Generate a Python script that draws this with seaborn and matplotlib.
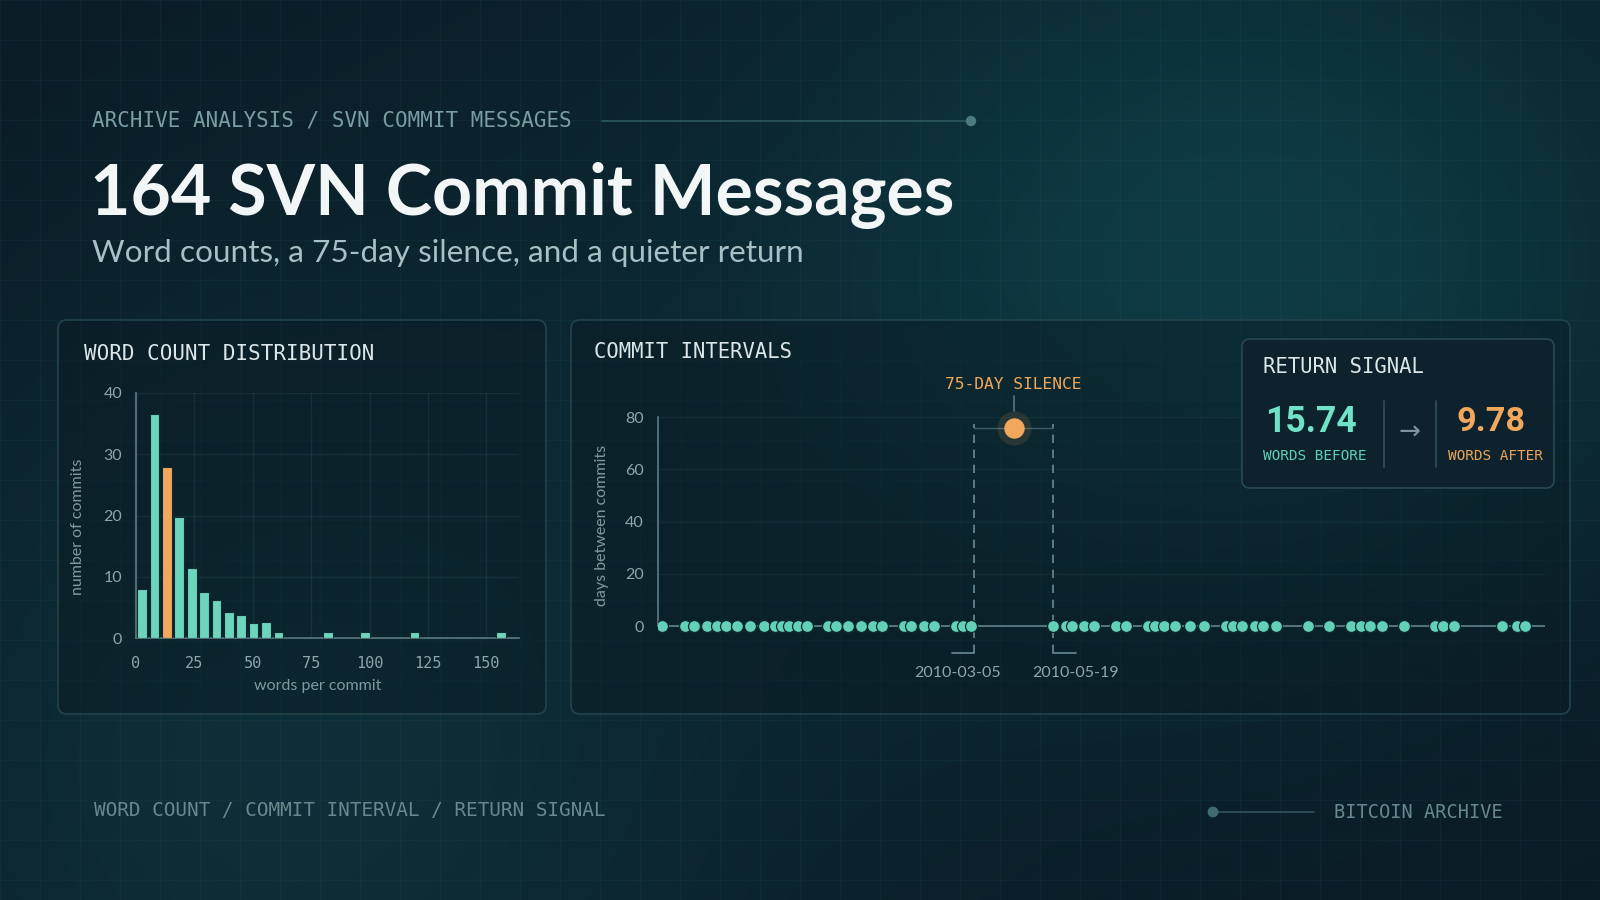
import numpy as np
import pandas as pd
import matplotlib
matplotlib.use("Agg")
import matplotlib.pyplot as plt
from matplotlib.patches import FancyBboxPatch, Circle
import seaborn as sns

# ---------------- data ----------------
total_commits = 164
word_bin_width = 5.3                                 # 30 bins over 0-159 words
word_bin_range = (0, 159)
commit_counts = [8, 36.5, 28, 19.7, 11.5, 7.5, 6.2, 4.3, 3.7, 2.4,
                 2.6, 1, 0, 0, 0, 1, 0, 0, 1, 0,
                 0, 0, 1, 0, 0, 0, 0, 0, 0, 1]
highlight_bin = 2
word_ticks = [0, 25, 50, 75, 100, 125, 150]
count_ticks = [0, 10, 20, 30, 40]

commit_dates_before = [
    "2009-05-10", "2009-06-01", "2009-06-09", "2009-06-22", "2009-07-01",
    "2009-07-10", "2009-07-20", "2009-08-02", "2009-08-15", "2009-08-26",
    "2009-09-02", "2009-09-08", "2009-09-17", "2009-09-26", "2009-10-16",
    "2009-10-23", "2009-11-04", "2009-11-16", "2009-11-28", "2009-12-06",
    "2009-12-28", "2010-01-03", "2010-01-16", "2010-01-25", "2010-02-15",
    "2010-02-22", "2010-03-02"]
intervals_before = [0, 0, 0, 0, 0, 0, 0, 0, 0, 0,
                    0, 0, 0, 0, 0, 0, 0, 0, 0, 0,
                    0, 0, 0, 0, 0, 0, 0]
commit_dates_after = [
    "2010-05-19", "2010-06-01", "2010-06-07", "2010-06-18", "2010-06-28",
    "2010-07-19", "2010-07-28", "2010-08-18", "2010-08-25", "2010-09-03",
    "2010-09-13", "2010-09-28", "2010-10-11", "2010-11-01", "2010-11-08",
    "2010-11-17", "2010-11-29", "2010-12-07", "2010-12-19", "2011-01-19",
    "2011-02-08", "2011-03-01", "2011-03-11", "2011-03-19", "2011-03-31",
    "2011-04-21", "2011-05-21", "2011-05-28", "2011-06-08", "2011-07-24",
    "2011-08-07", "2011-08-15"]
intervals_after = [0, 0, 0, 0, 0, 0, 0, 0, 0, 0,
                   0, 0, 0, 0, 0, 0, 0, 0, 0, 0,
                   0, 0, 0, 0, 0, 0, 0, 0, 0, 0,
                   0, 0]
silence_start = "2010-03-05"
silence_end = "2010-05-19"
silence_days = 75
interval_ticks = [0, 20, 40, 60, 80]

words_before = 15.74
words_after = 9.78

# ---------------- style ----------------
W, H = 1600, 900
BG = "#0b1b25"
TEAL = "#6dd5bc"
TEAL_DOT = "#62d1b8"
ORANGE = "#f2a85c"
TXT_HI = "#dae6e7"
TXT_MID = "#8ca6aa"
TXT_DIM = "#67898d"
AXC = "#5b7c83"
MONO = ["DejaVu Sans Mono"]
SANS = ["Lato", "DejaVu Sans"]
MONO_SCALE = 0.98

sns.set_theme(style="white", rc={
    "axes.facecolor": "none", "figure.facecolor": BG,
    "axes.edgecolor": AXC, "text.color": TXT_HI,
    "xtick.color": TXT_MID, "ytick.color": TXT_MID,
    "axes.labelcolor": "#7f9a9e"})
plt.rcParams["font.family"] = SANS

fig = plt.figure(figsize=(16, 9), dpi=100)
renderer = fig.canvas.get_renderer()


def px_rect(x0, y0, x1, y1):
    return [x0 / W, 1 - y1 / H, (x1 - x0) / W, (y1 - y0) / H]


# background
bg = fig.add_axes([0, 0, 1, 1], zorder=-10)
bg.set_xlim(0, W)
bg.set_ylim(H, 0)
bg.axis("off")
yy, xx = np.mgrid[0:H:2, 0:W:2]
g1 = np.exp(-((xx - 1268) ** 2 / (2 * 330 ** 2) + (yy - 250) ** 2 / (2 * 260 ** 2)))
g2 = np.exp(-((xx - 260) ** 2 + (yy - 790) ** 2) / (2 * 330 ** 2))
g3 = np.exp(-((xx - 700) ** 2 + (yy - 420) ** 2) / (2 * 600 ** 2))
img = (np.array([10, 25, 34])[None, None, :]
       + g1[..., None] * np.array([3, 30, 30])[None, None, :]
       + g2[..., None] * np.array([3, 17, 17])[None, None, :]
       + g3[..., None] * np.array([1, 7, 8])[None, None, :]) / 255.0
bg.imshow(np.clip(img, 0, 1), extent=[0, W, H, 0], aspect="auto", zorder=0,
          interpolation="bilinear")
for gx in range(0, W + 1, 40):
    bg.plot([gx, gx], [0, H], color="#4fa0a8", alpha=0.06, lw=1, zorder=1)
for gy in range(0, H + 1, 40):
    bg.plot([0, W], [gy, gy], color="#4fa0a8", alpha=0.06, lw=1, zorder=1)


def rbox(ax, x0, y0, x1, y1, fc, ec, r=9, lw=1.2, z=2):
    ax.add_patch(FancyBboxPatch((x0, y0), x1 - x0, y1 - y0,
                                boxstyle=f"round,pad=0,rounding_size={r}",
                                fc=fc, ec=ec, lw=lw, zorder=z))


rbox(bg, 58, 320, 546, 714, (0.04, 0.10, 0.13, 0.45), "#21434b")
rbox(bg, 571, 320, 1570, 714, (0.04, 0.10, 0.13, 0.45), "#21434b")

ov = fig.add_axes([0, 0, 1, 1], zorder=10)
ov.set_xlim(0, W)
ov.set_ylim(H, 0)
ov.axis("off")
ov.patch.set_alpha(0)


def fit(ax, x, y, s, width, family, color, weight="normal", va="center",
        ha="left", z=5, **kw):
    t = ax.text(x, y, s, fontsize=20, family=family, color=color,
                weight=weight, va=va, ha=ha, zorder=z, **kw)
    bb = t.get_window_extent(renderer=renderer)
    scale = MONO_SCALE if family == MONO else 1.0
    t.set_fontsize(20 * scale * width / bb.width)
    return t


# header / title
fit(ov, 92, 121, "ARCHIVE ANALYSIS / SVN COMMIT MESSAGES", 487, MONO, "#7a9da1")
ov.plot([602, 967], [121, 121], color="#2b5459", lw=1.3, zorder=4)
ov.add_patch(Circle((971, 121), 4.5, color="#4b7b7e", zorder=5))
fit(ov, 90, 215, f"{total_commits} SVN Commit Messages", 864, SANS, "#f3f6f6",
    weight="bold", va="baseline")
fit(ov, 92, 262, "Word counts, a 75-day silence, and a quieter return", 712,
    SANS, "#a6c0c3", va="baseline")

# panel titles
fit(ov, 84, 354, "WORD COUNT DISTRIBUTION", 295, MONO, TXT_HI)
fit(ov, 594, 352, "COMMIT INTERVALS", 202, MONO, TXT_HI)

# footer
fit(ov, 94, 811, "WORD COUNT / COMMIT INTERVAL / RETURN SIGNAL", 525, MONO,
    TXT_DIM)
fit(ov, 1334, 812, "BITCOIN ARCHIVE", 172, MONO, TXT_DIM)
ov.plot([1213, 1314], [812, 812], color="#2b5055", lw=1.3, zorder=4)
ov.add_patch(Circle((1213, 812), 4.7, color="#3d6c6f", zorder=5))

# ---------------- histogram ----------------
ax1 = fig.add_axes(px_rect(136, 393, 519, 638))
ax1.set_facecolor("none")
n_bins = len(commit_counts)
hist_df = pd.DataFrame({
    "words": word_bin_range[0] + word_bin_width * (np.arange(n_bins) + 0.5),
    "count": commit_counts})
sns.histplot(data=hist_df, x="words", weights="count",
             binwidth=word_bin_width, binrange=word_bin_range,
             shrink=0.78, color=TEAL, edgecolor="#0f2a33", linewidth=0.8,
             alpha=1, ax=ax1, zorder=3)
ax1.containers[0][highlight_bin].set_facecolor(ORANGE)
ax1.set_xlim(0, 164)
ax1.set_ylim(0, 40)
ax1.set_xticks(word_ticks)
ax1.set_yticks(count_ticks)
ax1.grid(True, color="#9fd0d4", alpha=0.08, lw=1)
ax1.set_axisbelow(True)
for sp in ["top", "right"]:
    ax1.spines[sp].set_visible(False)
for sp in ["left", "bottom"]:
    ax1.spines[sp].set_color(AXC)
    ax1.spines[sp].set_linewidth(1.2)
ax1.tick_params(axis="x", length=0, pad=13, labelsize=11, labelcolor=TXT_MID)
ax1.tick_params(axis="y", length=0, pad=10, labelsize=11.5, labelcolor=TXT_MID)
for lab in ax1.get_xticklabels():
    lab.set_family(MONO)
ax1.set_xlabel("words per commit", fontsize=11.5, va="center")
ax1.set_ylabel("number of commits", fontsize=11.5, va="center")
ax1.xaxis.set_label_coords(318, 686, transform=bg.transData)
ax1.yaxis.set_label_coords(78, 527, transform=bg.transData)

# ---------------- commit intervals ----------------
ax2 = fig.add_axes(px_rect(657.7, 404.2, 1545, 653.4))
ax2.set_facecolor("none")
commits = pd.DataFrame({
    "date": pd.to_datetime(commit_dates_before + commit_dates_after),
    "interval": intervals_before + intervals_after})
ax2.axhline(0, color=AXC, lw=1.3, zorder=1)
sns.scatterplot(data=commits, x="date", y="interval", s=74, color=TEAL_DOT,
                edgecolor="#0d2a30", linewidth=0.9, ax=ax2, zorder=3)

s0 = pd.Timestamp(silence_start)
s1 = pd.Timestamp(silence_end)
mid = s0 + (s1 - s0) / 2
ax2.vlines([s0, s1], -10.3, silence_days + 2.5, colors="#6a8b92",
           linestyles=(0, (5, 4)), lw=1.2, zorder=2)
ax2.plot([s0, s1], [silence_days + 0.8, silence_days + 0.8], color="#3b5c63",
         lw=1.0, zorder=2)
ax2.plot([s0 - pd.Timedelta(days=21), s0], [-10.3, -10.3], color="#6a8b92",
         lw=1.2, clip_on=False)
ax2.plot([s1, s1 + pd.Timedelta(days=22)], [-10.3, -10.3], color="#6a8b92",
         lw=1.2, clip_on=False)
sns.scatterplot(x=[mid], y=[silence_days + 0.8], s=600, color=ORANGE,
                alpha=0.12, linewidth=0, ax=ax2, zorder=4)
sns.scatterplot(x=[mid], y=[silence_days + 0.8], s=215, color=ORANGE,
                linewidth=0, ax=ax2, zorder=5)
ax2.plot([mid, mid], [82.5, 88], color="#57767c", lw=1.2, clip_on=False)
t = fit(ax2, mid, 92.4, f"{silence_days}-DAY SILENCE", 140, MONO, ORANGE,
        ha="center")
t.set_clip_on(False)
ax2.text(s0 - pd.Timedelta(days=16), -18, silence_start, ha="center",
         va="center", fontsize=11.5, color=TXT_MID, clip_on=False)
ax2.text(s1 + pd.Timedelta(days=22), -18, silence_end, ha="center",
         va="center", fontsize=11.5, color=TXT_MID, clip_on=False)

ax2.set_xlim(pd.Timestamp("2009-05-05 10:00"), pd.Timestamp("2011-09-03"))
ax2.set_ylim(-10.5, 85)
ax2.set_xticks([])
ax2.set_yticks(interval_ticks)
ax2.grid(axis="y", color="#9fd0d4", alpha=0.06, lw=1)
ax2.set_axisbelow(True)
for sp in ["top", "right", "bottom"]:
    ax2.spines[sp].set_visible(False)
ax2.spines["left"].set_bounds(0, 80)
ax2.spines["left"].set_color(AXC)
ax2.spines["left"].set_linewidth(1.2)
ax2.tick_params(axis="y", length=0, pad=10, labelsize=11.5, labelcolor=TXT_MID)
ax2.set_xlabel("")
ax2.set_ylabel("days between commits", fontsize=11.5, va="center")
ax2.yaxis.set_label_coords(602, 525, transform=bg.transData)

# ---------------- return signal box ----------------
rbox(ov, 1242, 339, 1554, 488, "#0d222d", "#284852", r=8, z=2)
fit(ov, 1263, 367, "RETURN SIGNAL", 165, MONO, TXT_HI)
fit(ov, 1265, 422, f"{words_before:.2f}", 92, ["Roboto", "DejaVu Sans"],
    "#6fe2c7", weight="bold")
fit(ov, 1457, 422, f"{words_after:.2f}", 69, ["Roboto", "DejaVu Sans"],
    ORANGE, weight="bold")
fit(ov, 1263, 456, "WORDS BEFORE", 106, MONO, "#5fcfb5")
fit(ov, 1448, 456, "WORDS AFTER", 97, MONO, "#e9a457")
ov.plot([1384, 1384], [401, 467], color="#2d4d54", lw=1.3, zorder=4)
ov.plot([1436, 1436], [401, 467], color="#2d4d54", lw=1.3, zorder=4)
fit(ov, 1410, 433, "\u2192", 22, ["DejaVu Sans"], "#7d969b", ha="center")

fig.savefig("out.png", dpi=100, facecolor=fig.get_facecolor())
